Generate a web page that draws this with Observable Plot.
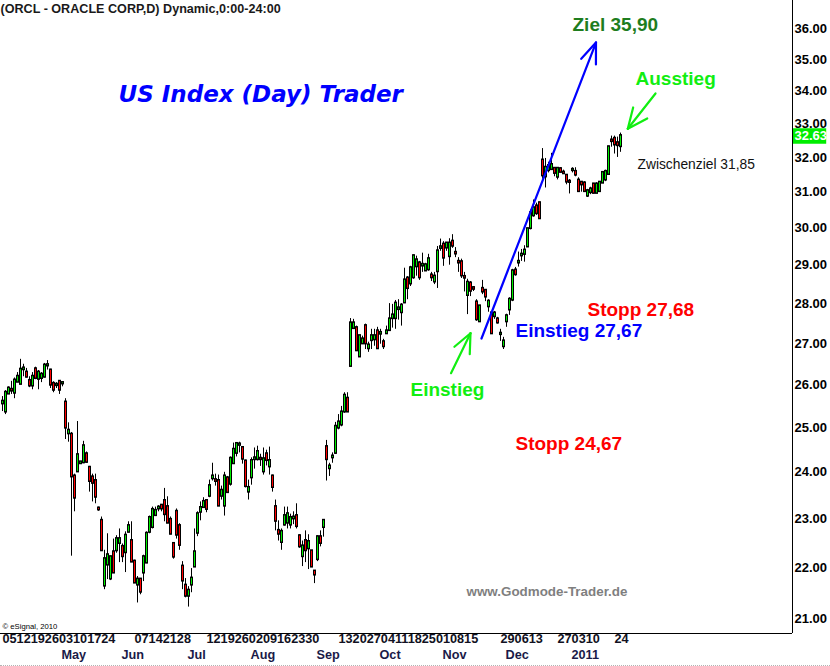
<!DOCTYPE html>
<html><head><meta charset="utf-8">
<script src="https://cdn.jsdelivr.net/npm/d3@7"></script>
<script src="https://cdn.jsdelivr.net/npm/@observablehq/plot@0.6"></script>
<style>
html,body{margin:0;padding:0;background:#fff;overflow:hidden}
#chart svg{display:block;border-bottom:1px dotted #b4b4b4}
</style></head>
<body><div id="chart"></div>
<script>
// ORCL daily candles, trading-day index 0 = 5 Apr 2010 ... 206 = 26 Jan 2011
const opens = [25.56,25.37,25.79,25.88,25.81,26.07,26.02,26.37,26.29,26.09,25.98,26.37,26.14,26.16,26.19,26.46,26.34,26.02,25.99,26.07,26.03,
25.58,24.87,24.84,23.91,24.02,24.20,24.22,24.40,24.10,23.89,23.81,23.22,22.96,21.64,22.06,21.78,22.31,22.35,22.50,22.42,22.31,22.73,22.54,22.12,21.66,21.76,21.90,22.10,22.73,
22.83,23.08,23.22,23.28,23.38,23.25,22.98,22.48,23.15,22.85,22.02,21.64,21.44,21.66,22.02,22.71,23.15,23.25,23.38,23.49,23.87,23.83,23.81,23.49,23.28,23.87,23.75,24.20,24.43,24.61,
24.54,24.24,23.58,23.89,24.29,24.29,24.30,24.02,24.40,24.13,23.91,23.25,22.75,22.52,22.88,22.92,22.88,23.01,23.06,22.64,22.23,22.54,22.39,22.33,21.92,22.17,22.62,22.83,
24.56,24.09,24.33,24.43,25.00,25.07,25.37,25.67,26.45,27.38,27.38,26.68,27.00,27.43,26.88,27.08,27.10,27.30,27.24,27.03,27.25,27.33,27.63,27.63,27.86,27.78,28.03,28.65,28.52,28.68,
28.97,29.05,28.99,28.86,28.89,28.73,28.57,28.84,29.46,29.55,29.47,29.24,29.63,29.33,29.09,29.08,28.69,28.22,28.52,28.40,28.03,27.55,28.38,28.33,27.93,27.75,27.68,27.60,27.23,26.93,
27.55,27.85,28.10,28.86,29.07,29.26,29.30,29.50,30.00,30.35,30.60,30.69,31.91,31.45,31.63,31.66,31.67,31.44,31.66,31.56,31.47,31.30,31.63,31.58,31.33,31.27,31.25,30.90,31.00,31.22,
30.98,31.03,31.27,31.36,31.52,32.50,32.55,32.42,32.33];
const highs = [25.72,25.86,25.95,26.08,26.16,26.29,26.61,26.49,26.39,26.19,26.29,26.42,26.34,26.29,26.51,26.58,26.37,26.07,26.05,26.09,26.07,
25.67,25.11,24.89,23.96,25.14,24.24,24.69,24.45,24.13,23.96,23.96,23.25,23.04,22.35,22.69,22.23,22.58,22.65,22.79,22.48,22.73,22.94,22.94,22.15,21.82,21.78,22.25,22.73,23.06,
23.25,23.25,23.28,23.30,23.65,23.47,23.04,22.50,23.21,22.90,22.12,21.78,21.62,21.98,22.79,23.15,23.36,23.45,23.40,23.83,24.20,23.96,23.94,23.70,24.00,23.91,24.34,24.65,24.65,24.67,
24.56,24.27,23.83,24.32,24.54,24.58,24.40,24.54,24.49,24.56,23.94,23.40,22.96,22.79,23.25,23.25,23.10,23.15,23.32,22.67,22.54,22.75,22.67,22.33,21.92,22.65,22.75,22.98,
24.71,24.20,24.43,25.12,25.30,25.49,25.81,25.81,27.62,27.60,27.43,27.20,27.18,27.48,27.03,27.35,27.35,27.40,27.35,27.10,27.43,28.00,27.98,28.08,28.10,28.00,28.92,28.70,28.97,29.27,
29.24,29.10,29.32,29.05,29.29,28.81,28.81,29.50,29.70,29.63,29.60,29.71,29.82,29.47,29.20,29.16,28.81,28.63,28.57,28.44,28.10,27.95,28.60,28.36,28.10,27.80,27.80,27.65,27.35,27.15,
27.73,28.15,28.89,28.94,29.35,29.42,29.52,30.00,30.50,30.78,30.69,30.72,32.26,31.97,31.86,32.12,31.70,31.70,31.70,31.63,31.50,31.36,31.70,31.70,31.41,31.30,31.30,31.08,31.14,31.25,
31.27,31.30,31.58,31.63,32.33,32.63,32.63,32.60,32.72];
const lows = [25.37,25.30,25.77,25.77,25.67,26.05,26.00,26.19,26.16,25.93,25.88,26.12,25.88,26.05,26.16,26.35,25.91,25.81,25.91,25.77,25.95,
24.73,24.67,22.23,23.15,24.00,24.18,24.19,24.20,23.57,23.36,23.32,23.16,22.33,21.56,21.76,21.74,21.88,22.29,22.10,22.10,21.90,22.71,22.10,21.70,21.30,21.46,21.72,22.08,22.69,
22.79,23.06,23.15,23.15,22.94,22.90,22.67,22.17,22.58,22.35,21.56,21.40,21.22,21.50,22.02,22.63,22.96,23.23,23.13,23.45,23.81,23.70,23.28,23.40,23.06,23.57,23.70,24.18,24.34,24.43,
24.18,23.66,23.40,23.72,24.07,24.25,24.13,23.94,24.14,23.94,23.57,22.75,22.54,22.35,22.85,22.79,22.79,22.88,22.79,22.39,22.02,22.10,21.96,22.00,21.68,22.12,22.42,22.62,
23.81,23.91,24.20,24.40,24.95,25.02,25.33,25.35,26.43,27.35,26.83,26.66,26.98,26.85,26.78,26.85,26.93,26.85,26.98,26.85,27.25,27.30,27.38,27.35,27.58,27.43,28.00,28.10,28.44,28.63,
28.71,28.60,28.81,28.84,28.84,28.57,28.49,28.39,29.37,28.97,29.37,29.00,29.45,29.20,28.81,28.65,28.30,27.72,28.18,28.31,27.55,27.52,28.23,28.05,27.78,27.23,27.60,27.48,27.05,26.85,
27.40,27.70,28.05,28.71,28.95,29.10,29.08,29.47,29.95,30.30,30.35,30.25,31.37,31.12,31.55,31.63,31.44,31.35,31.55,31.52,31.21,30.95,31.55,31.44,31.00,31.00,31.00,30.85,30.93,30.95,
30.98,31.00,31.27,31.30,31.50,32.30,32.10,32.00,32.15];
const closes = [25.60,25.81,25.91,25.86,26.10,26.19,26.36,26.39,26.19,25.98,26.19,26.16,26.29,26.24,26.46,26.47,26.00,25.88,26.00,25.88,26.04,
25.00,24.93,23.91,23.45,24.38,24.22,24.58,24.23,23.81,23.77,23.47,23.20,22.35,22.17,22.25,22.21,21.90,22.58,22.58,22.23,22.65,22.85,22.12,21.70,21.76,21.52,22.21,22.69,23.02,
23.19,23.17,23.24,23.22,23.10,22.92,22.69,22.22,22.67,22.46,21.74,21.44,21.54,21.78,22.31,23.10,23.23,23.36,23.21,23.70,23.91,23.81,23.28,23.60,23.91,23.57,24.30,24.50,24.63,24.62,
24.30,23.70,23.66,24.25,24.31,24.45,24.29,24.29,24.27,24.25,23.68,22.96,22.69,22.73,23.06,23.10,23.02,23.03,22.85,22.43,22.43,22.35,22.52,22.02,21.86,22.62,22.50,22.96,
24.29,24.13,24.35,25.02,25.12,25.35,25.74,25.37,27.50,27.50,26.83,27.18,27.10,27.00,26.95,27.18,27.18,26.88,27.26,26.93,27.30,27.60,27.70,28.00,27.88,27.95,28.60,28.40,28.92,29.24,
29.13,28.68,29.01,29.00,29.16,28.68,28.70,29.37,29.48,29.20,29.58,29.58,29.52,29.31,29.07,28.73,28.67,28.54,28.33,28.38,27.60,27.93,28.31,28.18,28.05,27.25,27.75,27.52,27.24,27.05,
27.68,28.10,28.84,28.76,29.09,29.28,29.39,29.97,30.41,30.55,30.41,30.27,31.48,31.70,31.75,31.78,31.55,31.67,31.58,31.54,31.30,31.29,31.64,31.50,31.03,31.22,31.03,31.03,31.08,30.98,
31.22,31.27,31.55,31.58,32.30,32.48,32.38,32.36,32.63];

// price axis ticks
const priceTicks = [21,22,23,24,25,26,27,28,29,30,31,32,33,34,35,36];
// day labels, as packed groups, and the trading-day index each group starts at
const dayGroups = [
  ["05","12","19","26","03","10","17","24"],
  ["07","14","21","28"],
  ["12","19","26","02","09","16","23","30"],
  ["13","20","27","04","11","18","25","01","08","15"],
  ["29","06","13"],
  ["27","03","10"],
  ["24"]
];
const dayGroupStart = [0,44,68,112,166,185,204];
const monthLabels = ["May","Jun","Jul","Aug","Sep","Oct","Nov","Dec","2011"];
const monthStart = [20,40,62,83,105,126,147,168,190];

// annotations (trading-day index, price)
const noteText = ["Ziel 35,90","Ausstieg","Zwischenziel 31,85","Stopp 27,68","Einstieg 27,67","Einstieg","Stopp 24,67","www.Godmode-Trader.de"];
const noteX = [190,211,211.67,195,171,136,171,154.67];
const noteY = [36.13,34.37,31.785,27.843,27.313,25.869,24.641,21.523];
const headline = "US Index (Day) Trader";
const headlineX = 38.67, headlineY = 33.9;
const titleText = "(ORCL - ORACLE CORP,D) Dynamic,0:00-24:00";
const titleX = -0.67, titleY = 36.654;
const creditText = "\u00a9 eSignal, 2010";
const creditX = 0, creditY = 20.847;

// arrows: tail -> tip
const arrowFromX = [159.67, 217.67, 149.5];
const arrowFromY = [27.121, 33.925, 26.275];
const arrowToX = [197.83, 208.43, 156.0];
const arrowToY = [35.542, 32.848, 27.252];
const arrowColor = ["#0000ff", "#11ee11", "#11ee11"];

// ---------- build ----------
const W = 830, H = 665, MR = 38, MB = 32;
const xDomain = [-2/3, 790/3];
const yDomain = [20.714, 36.933];
const UP = "#00ee00", DOWN = "#ff0000", LIME = "#11ee11";
const FONT = "'Liberation Sans', Arial, sans-serif";

const candles = opens.map((o, i) => ({i, o, h: highs[i], l: lows[i], c: closes[i]}));
const ups = candles.filter(d => d.c >= d.o), downs = candles.filter(d => d.c < d.o);
const lastClose = closes[closes.length - 1];

const sx = Plot.scale({x: {domain: xDomain, range: [0, W - MR]}});
const sy = Plot.scale({y: {type: "log", domain: yDomain, range: [H - MB, 0]}});
const headLen = [22, 22, 21], headHalf = [21, 24, 24];
const segs = [];
arrowFromX.forEach((_, k) => {
  const px1 = sx.apply(arrowFromX[k]), py1 = sy.apply(arrowFromY[k]);
  const px2 = sx.apply(arrowToX[k]), py2 = sy.apply(arrowToY[k]);
  const back = Math.atan2(py1 - py2, px1 - px2);
  segs.push({x1: arrowFromX[k], y1: arrowFromY[k], x2: arrowToX[k], y2: arrowToY[k], k});
  for (const s of [-1, 1]) {
    const t = back + s * headHalf[k] * Math.PI / 180;
    segs.push({x1: arrowToX[k], y1: arrowToY[k],
      x2: sx.invert(px2 + headLen[k] * Math.cos(t)), y2: sy.invert(py2 + headLen[k] * Math.sin(t)), k});
  }
});

const notes = noteText.map((t, k) => ({t, x: noteX[k], y: noteY[k]}));
const big = {fontFamily: FONT, fontWeight: "bold", fontSize: 19, textAnchor: "start"};
const noteMark = (k, fill, extra = {}) => Plot.text([notes[k]], {x: "x", y: "y", text: "t", fill, ...big, ...extra});

const groups = dayGroupStart.map((s, k) => ({s, t: dayGroups[k].join("")}));
const months = monthStart.map((s, k) => ({s, t: monthLabels[k]}));

const chart = Plot.plot({
  width: W, height: H,
  marginTop: 0, marginLeft: 0, marginRight: MR, marginBottom: MB,
  x: {domain: xDomain, axis: null},
  y: {type: "log", domain: yDomain, axis: null},
  style: {background: "#fff", overflow: "visible"},
  marks: [
    // candles
    Plot.ruleX(candles, {x: "i", y1: "l", y2: "h", stroke: "#000", strokeWidth: 1}),
    Plot.ruleX(candles, {x: "i", y1: d => Math.min(d.o, d.c), y2: d => Math.max(d.o, d.c), stroke: "#000", strokeWidth: 3, strokeLinecap: "square"}),
    Plot.ruleX(ups, {x: "i", y1: "o", y2: "c", stroke: UP, strokeWidth: 1}),
    Plot.ruleX(downs, {x: "i", y1: "c", y2: "o", stroke: DOWN, strokeWidth: 1}),
    // arrows
    Plot.link(segs.filter(d => d.k === 0), {x1: "x1", y1: "y1", x2: "x2", y2: "y2", stroke: arrowColor[0], strokeWidth: 2.2, strokeLinecap: "round"}),
    Plot.link(segs.filter(d => d.k > 0), {x1: "x1", y1: "y1", x2: "x2", y2: "y2", stroke: arrowColor[1], strokeWidth: 2.2, strokeLinecap: "round"}),
    // price label highlight
    Plot.ruleY([lastClose], {x1: xDomain[1] + 1/3, x2: xDomain[1] + 11.4, stroke: UP, strokeWidth: 15.5}),
    // frame lines
    Plot.ruleX([xDomain[1]], {stroke: "#000"}),
    Plot.ruleY([yDomain[0]], {stroke: "#000"}),
    // price axis labels
    Plot.text(priceTicks, {y: d => d, text: d => d.toFixed(2), frameAnchor: "right", textAnchor: "start", dx: 2,
      fontFamily: FONT, fontWeight: "bold", fontSize: 13, fill: "#000"}),
    Plot.text([lastClose], {y: d => d, text: d => d.toFixed(2), frameAnchor: "right", textAnchor: "start", dx: 2,
      fontFamily: FONT, fontWeight: "bold", fontSize: 13, fill: "#fff"}),
    // date axis labels
    Plot.text(groups, {x: "s", text: "t", frameAnchor: "bottom", textAnchor: "start", dy: 9.5,
      fontFamily: FONT, fontWeight: "bold", fontSize: 12.7, fill: "#111122"}),
    Plot.text(months, {x: "s", text: "t", frameAnchor: "bottom", textAnchor: "start", dx: -1, dy: 25.5,
      fontFamily: FONT, fontWeight: "bold", fontSize: 12.7, fill: "#1a1a48"}),
    // title, headline, credit
    Plot.text([titleText], {x: () => titleX, y: () => titleY, text: d => d, textAnchor: "start",
      fontFamily: FONT, fontWeight: "bold", fontSize: 12.6, fill: "#1a1a1a"}),
    Plot.text([headline], {x: () => headlineX, y: () => headlineY, text: d => d, textAnchor: "start",
      fontFamily: "'DejaVu Sans', sans-serif", fontWeight: "bold", fontStyle: "italic", fontSize: 23, fill: "#0000ff"}),
    Plot.text([creditText], {x: () => creditX, y: () => creditY, text: d => d, textAnchor: "start",
      fontFamily: FONT, fontSize: 7.7, fill: "#000"}),
    // annotations
    noteMark(0, "#1e7d1e"),
    noteMark(1, LIME),
    noteMark(2, "#111", {fontWeight: "normal", fontSize: 13.8}),
    noteMark(3, "#ff0000"),
    noteMark(4, "#0000ff"),
    noteMark(5, LIME),
    noteMark(6, "#ff0000"),
    noteMark(7, "#7f7f7f", {fontSize: 13.4})
  ]
});
document.getElementById("chart").appendChild(chart);
</script>
</body></html>
